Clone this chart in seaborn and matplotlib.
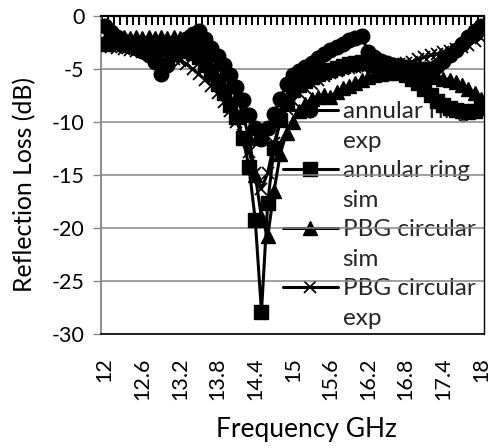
import matplotlib
matplotlib.use("Agg")
import matplotlib.pyplot as plt
from matplotlib.lines import Line2D
from matplotlib.ticker import FixedLocator
import seaborn as sns
import pandas as pd

freq = [12.0, 12.1, 12.2, 12.3, 12.4, 12.5, 12.6, 12.7, 12.8, 12.9,
        13.0, 13.1, 13.2, 13.3, 13.4, 13.5, 13.6, 13.7, 13.8, 13.9,
        14.0, 14.1, 14.2, 14.3, 14.4, 14.5, 14.6, 14.7, 14.8, 14.9,
        15.0, 15.1, 15.2, 15.3, 15.4, 15.5, 15.6, 15.7, 15.8, 15.9,
        16.0, 16.1, 16.2, 16.3, 16.4, 16.5, 16.6, 16.7, 16.8, 16.9,
        17.0, 17.1, 17.2, 17.3, 17.4, 17.5, 17.6, 17.7, 17.8, 17.9,
        18.0]

annular_exp = [-0.9, -1.5, -2.0, -2.4, -2.7, -3.0, -3.3, -3.7, -4.3, -5.5,
               -4.6, -3.6, -2.8, -2.2, -1.7, -1.4, -2.2, -3.0, -3.8, -4.6,
               -5.6, -6.7, -7.9, -9.3, -10.6, -11.6, -10.6, -9.2, -7.8, -6.4,
               -5.6, -5.2, -4.8, -4.4, -4.0, -3.6, -3.2, -2.9, -2.6, -2.3,
               -2.1, -1.9, -3.4, -3.9, -4.2, -4.4, -4.6, -4.7, -4.8, -4.9,
               -5.0, -5.0, -5.0, -4.7, -4.2, -3.7, -3.2, -2.6, -2.0, -1.4,
               -0.9]

annular_sim = [-2.6, -2.5, -2.5, -2.6, -2.7, -2.8, -2.9, -3.0, -3.0, -3.1,
               -3.1, -3.2, -3.2, -3.3, -3.5, -3.9, -4.6, -5.5, -6.4, -7.3,
               -8.4, -9.5, -11.5, -14.2, -19.2, -27.9, -17.6, -12.5, -9.8, -8.2,
               -7.0, -6.5, -6.1, -5.8, -5.5, -5.3, -5.1, -4.9, -4.7, -4.5,
               -4.4, -4.3, -4.4, -4.6, -4.8, -5.0, -5.2, -5.4, -5.6, -5.9,
               -6.3, -6.9, -7.5, -8.0, -8.4, -8.7, -8.9, -9.0, -9.1, -9.0,
               -8.7]

pbg_sim = [-2.3, -2.2, -2.1, -2.0, -2.1, -2.0, -2.1, -2.0, -2.1, -2.0,
           -2.1, -2.0, -2.1, -2.0, -2.1, -2.3, -2.7, -3.3, -4.2, -5.2,
           -6.3, -7.6, -9.2, -11.5, -15.0, -19.0, -20.8, -16.5, -13.0, -11.0,
           -10.0, -9.0, -8.3, -7.8, -7.6, -7.5, -7.6, -7.2, -6.8, -6.6,
           -6.3, -6.0, -5.8, -5.6, -5.5, -5.4, -5.3, -5.3, -5.3, -5.4,
           -5.5, -5.6, -5.7, -5.8, -5.9, -6.0, -6.2, -6.5, -6.9, -7.3,
           -7.8]

pbg_exp = [-2.8, -2.9, -3.0, -3.1, -3.2, -3.3, -3.4, -3.6, -3.8, -4.0,
           -4.1, -4.1, -4.2, -4.5, -5.0, -5.5, -6.0, -6.6, -7.3, -8.1,
           -9.0, -10.0, -11.2, -12.8, -14.8, -16.3, -14.8, -12.0, -10.0, -8.8,
           -8.0, -7.3, -6.8, -6.4, -6.0, -5.7, -5.4, -5.2, -5.0, -4.9,
           -4.8, -4.8, -4.7, -4.7, -4.6, -4.6, -4.5, -4.5, -4.4, -4.3,
           -4.1, -3.9, -3.7, -3.6, -3.4, -3.3, -3.1, -2.9, -2.7, -2.4,
           -2.1]

series_names = ["annular ring exp", "annular ring sim", "PBG circular sim", "PBG circular exp"]
legend_first = ["annular ring", "annular ring", "PBG circular", "PBG circular"]
legend_second = ["exp", "sim", "sim", "exp"]
xtick_values = [12.0, 12.6, 13.2, 13.8, 14.4, 15.0, 15.6, 16.2, 16.8, 17.4, 18.0]
xtick_labels = ["12", "12.6", "13.2", "13.8", "14.4", "15", "15.6", "16.2", "16.8", "17.4", "18"]
ytick_values = [0, -5, -10, -15, -20, -25, -30]

sns.set_theme(style="white")
plt.rcParams['font.family'] = ['Lato', 'DejaVu Sans']

GRAY = "#868686"
fig = plt.figure(figsize=(4.92, 4.48), dpi=100)
fig.patch.set_facecolor("white")
ax = fig.add_axes([101/492, 1-334/448, 383/492, 318/448])
ax.set_facecolor("white")

data = [annular_exp, annular_sim, pbg_sim, pbg_exp]
markers = ["o", "s", "^", "x"]
msizes = [10.5, 10, 10, 8.5]
mews = [1, 1, 1, 1.3]
handles = []
for name, vals, m, ms, mew in zip(series_names, data, markers, msizes, mews):
    df = pd.DataFrame({"freq": freq, "val": vals})
    sns.lineplot(data=df, x="freq", y="val", ax=ax, color="black", lw=2.2,
                 marker=m, markersize=ms, markeredgecolor="black",
                 markerfacecolor="black", markeredgewidth=mew, legend=False, zorder=3)
    handles.append(Line2D([], [], color="black", lw=2.2, marker=m, markersize=ms,
                          markeredgecolor="black", markerfacecolor="black",
                          markeredgewidth=mew))

blank = Line2D([], [], color="none", lw=0, marker=None)
leg_handles, leg_labels = [], []
for h, a, b in zip(handles, legend_first, legend_second):
    leg_handles += [h, blank]
    leg_labels += [a, b]

ax.set_xlim(11.94, 18.05)
ax.set_ylim(-30, 0)

ax.set_xticks(xtick_values)
ax.set_xticklabels(xtick_labels, rotation=90)
boundaries = [11.95 + 0.1 * k for k in range(62)]
ax.xaxis.set_minor_locator(FixedLocator(boundaries))
ax.tick_params(axis="x", which="major", bottom=True, top=False, length=0,
               pad=17, labelsize=15.5, labelcolor="black")
ax.tick_params(axis="x", which="minor", bottom=False, top=True, direction="in",
               length=6.5, width=1.4, color="black")

ax.set_yticks(ytick_values)
ax.set_yticklabels([str(v) for v in ytick_values])
ax.tick_params(axis="y", which="major", left=True, direction="out", length=5.8,
               width=1, color=GRAY, pad=6, labelsize=15.5, labelcolor="black")

ax.set_axisbelow(True)
ax.grid(axis="y", color=GRAY, lw=1.1)
ax.grid(axis="x", visible=False)

for s in ["top", "right", "bottom"]:
    ax.spines[s].set_color("black")
ax.spines["top"].set_linewidth(1.6)
ax.spines["right"].set_linewidth(1.0)
ax.spines["bottom"].set_linewidth(1.2)
ax.spines["left"].set_color(GRAY)
ax.spines["left"].set_linewidth(1.3)

ax.set_xlabel("Frequency GHz", fontsize=19, color="black")
ax.set_ylabel("Reflection Loss (dB)", fontsize=17.8, color="black")
ax.xaxis.set_label_coords((306.7-101)/383, (334-417)/318)
ax.yaxis.set_label_coords((36-101)/383, (334-185)/318)

leg = ax.legend(leg_handles, leg_labels, loc="upper left",
                bbox_to_anchor=(283/492, 1-101/448), bbox_transform=fig.transFigure,
                frameon=False, fontsize=17.5, borderpad=0, borderaxespad=0,
                handlelength=2.25, handletextpad=0.2, labelspacing=0.35)
leg.set_zorder(0.4)

fig.savefig("out.png", dpi=100, facecolor="white")
